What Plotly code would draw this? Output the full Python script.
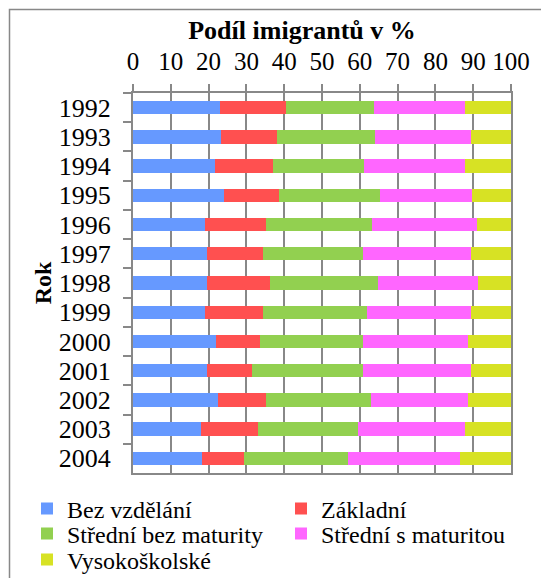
import plotly.graph_objects as go

years = ["1992", "1993", "1994", "1995", "1996", "1997", "1998",
         "1999", "2000", "2001", "2002", "2003", "2004"]

bez_vzdelani = [22.9, 23.3, 21.8, 24.2, 19.1, 19.6, 19.6, 19.0, 21.9, 19.7, 22.4, 18.0, 18.2]
zakladni = [17.5, 14.8, 15.2, 14.3, 16.1, 14.8, 16.6, 15.3, 11.8, 11.7, 12.9, 15.0, 11.1]
stredni_bez = [23.3, 26.0, 24.1, 26.8, 27.9, 26.5, 28.6, 27.6, 27.1, 29.5, 27.6, 26.6, 27.5]
stredni_s = [24.2, 25.4, 26.7, 24.5, 27.8, 28.6, 26.6, 27.4, 27.7, 28.4, 25.8, 28.2, 29.8]
vysokoskolske = [12.1, 10.5, 12.2, 10.2, 9.1, 10.5, 8.6, 10.7, 11.5, 10.7, 11.3, 12.2, 13.4]

series = [
    ("Bez vzdělání", bez_vzdelani, "#6699ff"),
    ("Základní", zakladni, "#ff5050"),
    ("Střední bez maturity", stredni_bez, "#92d050"),
    ("Střední s maturitou", stredni_s, "#ff66ff"),
    ("Vysokoškolské", vysokoskolske, "#d7e224"),
]

W, H = 541, 578
L, R, T, B = 133, 30, 93, 105
pw, ph = W - L - R, H - T - B

# legend entry slots (px): one small legend per entry so rows sit tight like Excel
leg_x = [27, 281, 27, 281, 27]
leg_y = [509, 509, 534, 534, 560]

font = "Liberation Serif, Times New Roman, serif"
fig = go.Figure()
legends = {}
for i, (name, vals, col) in enumerate(series):
    key = "legend%d" % (i + 2)
    fig.add_trace(go.Bar(name=name, y=years, x=vals, orientation="h", legend=key,
                         marker=dict(color=col, line=dict(width=0))))
    legends[key] = dict(x=(leg_x[i] - L) / pw, y=(H - B - leg_y[i]) / ph,
                        xanchor="left", yanchor="middle", orientation="v",
                        font=dict(family=font, size=24, color="black"), itemclick=False,
                        bgcolor="rgba(0,0,0,0)")

fig.update_layout(
    width=W, height=H,
    margin=dict(l=L, r=R, t=T, b=B, autoexpand=False),
    paper_bgcolor="white", plot_bgcolor="white",
    barmode="stack", bargap=0.54,
    font=dict(family=font, color="black", size=24),
    title=dict(text="<b>Podíl imigrantů v %</b>", x=(187 + 417) / 2 / W, xanchor="center",
               y=1 - 30 / H, yanchor="middle", font=dict(size=26)),
    xaxis=dict(side="top", range=[0, 100], dtick=10, tick0=0,
               showgrid=True, gridcolor="#888888", gridwidth=1.5,
               showline=True, linecolor="#888888", linewidth=2, mirror=True,
               ticks="outside", ticklen=7, tickcolor="#888888", tickwidth=1.5,
               ticklabelstandoff=4, tickfont=dict(size=25), fixedrange=True),
    yaxis=dict(type="category", autorange="reversed", tickson="boundaries", dtick=1,
               showline=True, linecolor="#888888", linewidth=2, mirror=True,
               ticks="outside", ticklen=8, tickcolor="#888888", tickwidth=1.5,
               ticklabelstandoff=15,
               tickfont=dict(size=26), showgrid=False,
               title=dict(text="<b>Rok</b>", font=dict(size=24), standoff=0)),
    shapes=[dict(type="rect", xref="paper", yref="paper",
                 x0=(9.5 - L) / pw, x1=(W + 10 - L) / pw,
                 y0=(H - B - H - 10) / ph, y1=(H - B - 9.5) / ph,
                 line=dict(color="#888888", width=1.5), layer="below")],
    **legends,
)

fig.write_html("out.html", config={"displayModeBar": False},
               post_script="document.body.style.margin='0';")
